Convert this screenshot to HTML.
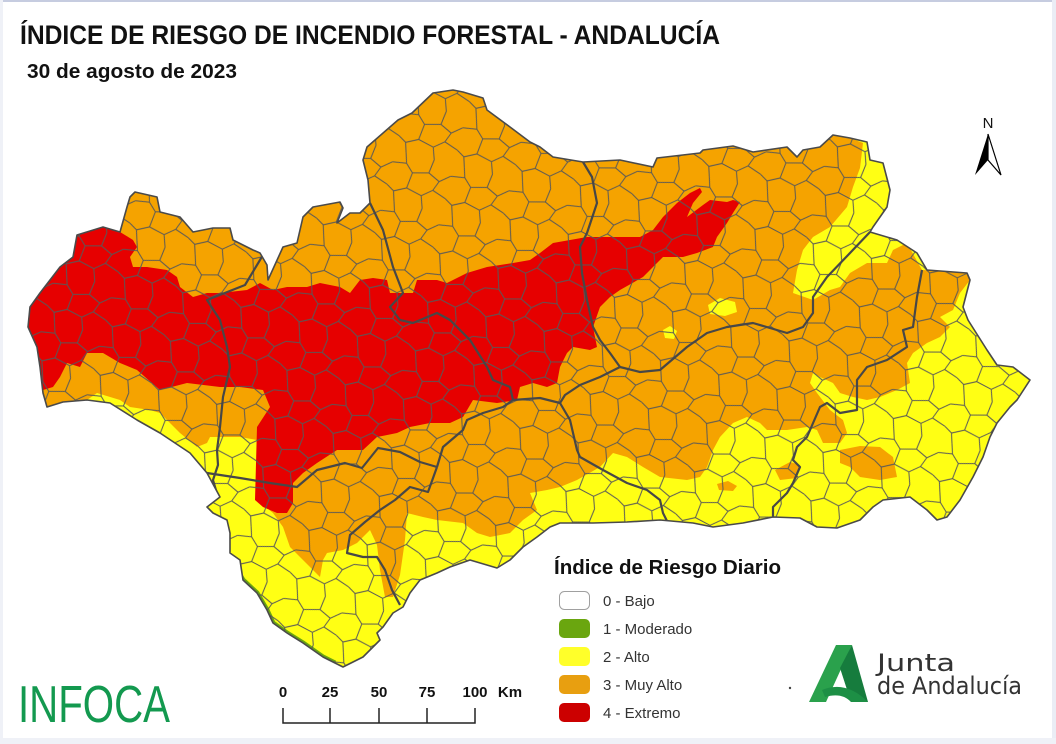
<!DOCTYPE html>
<html><head><meta charset="utf-8"><style>
html,body{margin:0;padding:0;background:#fff;}
svg{display:block;}
text{font-family:"Liberation Sans",Arial,sans-serif;}
</style></head><body>
<svg width="1056" height="744" viewBox="0 0 1056 744" xmlns="http://www.w3.org/2000/svg">
<defs>
<clipPath id="cp"><polygon id="outl" points="28,327 30,307 40,293 50,280 60,267 73,257 77,235 103,227 120,232 127,207 130,197 135,192 157,197 160,212 180,217 193,232 213,228 230,228 233,240 253,250 260,253 267,265 268,280 283,247 297,243 303,217 313,207 340,202 343,208 337,223 350,213 360,213 370,203 368,180 363,160 367,147 398,120 412,113 433,93 453,90 463,92 483,98 487,110 510,127 530,142 540,147 553,157 583,162 620,160 653,167 657,158 700,153 703,150 733,146 753,152 787,147 797,157 803,150 820,147 833,135 850,138 867,142 870,160 883,163 890,190 887,207 873,227 870,232 897,240 917,253 927,270 967,273 970,280 963,307 968,320 987,350 997,365 1013,367 1030,380 1017,400 1010,407 997,423 990,437 983,457 973,477 960,500 947,517 937,520 927,510 910,497 883,500 873,507 860,520 837,528 817,527 800,518 773,517 743,523 713,527 693,523 660,520 627,522 593,523 560,523 550,527 537,537 523,547 510,560 497,568 470,560 450,567 437,573 420,580 410,593 403,607 393,613 383,627 377,633 380,640 373,647 363,657 343,667 323,657 303,643 287,633 273,623 267,610 257,593 243,580 240,560 230,553 230,533 227,520 213,513 207,507 220,497 207,473 190,453 160,433 137,420 110,403 87,400 63,402 47,407 43,393 40,367 37,347"/></clipPath>
<pattern id="muni" width="60" height="50" patternUnits="userSpaceOnUse" patternTransform="rotate(14)">
<path d="M0,12 L14,10 L22,18 L38,14 L50,20 L60,12 M14,10 L11,0 M11,50 L8,40 L0,35 M22,18 L20,34 L8,40 M20,34 L36,38 L46,30 L50,20 M36,38 L40,50 M38,14 L40,0 M46,30 L60,35" fill="none" stroke="#585858" stroke-width="1"/>
</pattern>
</defs>

<!-- frame -->
<rect x="0" y="0" width="1056" height="744" fill="#ffffff"/>
<rect x="0" y="0" width="1056" height="2" fill="#c6cce0"/>
<rect x="1052" y="0" width="4" height="744" fill="#eaedf5"/>
<rect x="0" y="0" width="3" height="744" fill="#eff1f7"/>
<rect x="0" y="738" width="1056" height="6" fill="#eff1f7"/>

<!-- map -->
<use href="#outl" fill="#ffff14"/>
<g clip-path="url(#cp)">
<polygon fill="#f5a300" points="28,327 30,307 40,293 50,280 60,267 73,257 77,235 103,227 120,232 127,207 130,197 135,192 157,197 160,212 180,217 193,232 213,228 230,228 233,240 253,250 260,253 267,265 268,280 283,247 297,243 303,217 313,207 340,202 343,208 337,223 350,213 360,213 370,203 368,180 363,160 367,147 398,120 412,113 433,93 453,90 463,92 483,98 487,110 510,127 530,142 540,147 553,157 583,162 620,160 653,167 657,158 700,153 703,150 733,146 753,152 787,147 797,157 803,150 820,147 833,135 850,138 863,143 860,168 853,187 847,207 830,227 813,237 803,250 797,270 793,293 813,300 830,290 840,287 850,273 867,263 887,263 893,250 907,243 922,270 967,273 970,280 960,293 953,310 940,317 950,327 940,337 927,343 913,353 907,363 910,383 897,390 880,397 867,400 853,397 840,393 833,383 820,377 813,373 810,383 817,393 830,410 843,420 847,433 840,443 823,443 817,430 807,427 787,430 767,430 760,423 747,417 733,423 720,437 713,450 707,467 700,477 687,480 660,477 643,467 627,457 613,453 600,467 577,480 560,487 547,490 530,493 537,510 523,520 510,533 490,537 477,533 463,523 437,520 423,517 407,513 405,540 400,575 393,597 385,597 380,570 377,545 370,530 363,537 357,543 343,550 327,553 323,560 320,577 313,570 303,560 290,547 283,527 273,513 257,500 257,440 240,437 210,437 207,443 197,447 180,433 160,413 150,410 130,407 120,400 97,393 87,400 63,402 47,407 43,393 40,367 37,347"/>
<polygon fill="#f5a300" points="840,450 860,446 880,447 893,457 897,477 880,480 860,477 850,467 840,463"/>
<polygon fill="#f5a300" points="775,470 790,462 800,465 797,478 780,480"/>
<polygon fill="#f5a300" points="717,484 728,481 737,486 733,491 719,490"/>
<polygon fill="#ffff14" points="708,305 720,298 735,302 737,312 725,316 710,314"/>
<polygon fill="#ffff14" points="663,330 670,326 677,331 674,339 665,338"/>
<polygon fill="#e60000" points="28,327 30,307 40,293 50,280 60,267 73,257 77,235 103,227 120,232 133,240 137,247 130,257 133,267 147,267 167,270 177,277 180,287 193,297 207,293 220,293 247,290 260,283 273,290 287,287 307,287 320,283 340,287 350,293 360,280 373,278 387,280 390,293 413,293 417,280 437,280 447,283 467,273 487,267 513,263 530,260 540,253 553,243 587,237 640,237 653,230 663,217 677,203 690,193 700,188 702,192 693,203 687,217 703,205 710,200 727,202 733,200 740,202 733,213 727,223 717,237 713,247 697,253 683,257 663,257 650,270 643,277 620,290 610,297 600,307 593,327 597,347 590,350 573,347 567,353 560,367 557,383 547,387 533,383 520,387 517,400 497,403 473,400 463,417 450,423 430,423 410,427 397,433 377,437 363,450 337,450 317,463 303,473 293,483 293,503 287,513 277,513 263,507 255,500 257,427 270,407 263,390 240,387 220,387 187,383 160,390 137,370 120,363 103,353 87,353 80,367 67,363 60,377 53,387 43,390 40,367 37,347"/>
<polyline fill="none" stroke="#6aa60f" stroke-width="5" points="238,572 243,580 257,593 267,610 273,623 287,633 303,643 323,657 335,663"/>
<rect x="0" y="80" width="1056" height="600" fill="url(#muni)"/>
<g fill="none" stroke="#474747" stroke-width="2.2" stroke-linejoin="round">
<polyline points="263,255 245,285 207,300 220,320 227,347 230,367 223,397 220,427 217,450 218,465 213,480 218,497"/>
<polyline points="370,203 383,230 393,267 403,293 390,307 400,320 413,323 437,313 450,320 470,340 487,367 493,380 510,387 513,400"/>
<polyline points="513,400 503,407 483,413 467,420 463,430 443,447 437,467"/>
<polyline points="207,473 240,478 270,483 297,487 317,470 345,463 362,468 378,448 400,452 420,462 437,467"/>
<polyline points="437,467 428,492 410,487 395,500 380,510 365,522 350,535 347,553 363,557 377,557 385,570 392,590 400,605"/>
<polyline points="513,400 540,398 560,403"/>
<polyline points="583,162 592,177 597,203 587,233 580,247 582,273 587,300 593,327 600,340 610,353 620,367"/>
<polyline points="620,367 600,377 580,385 565,395 560,403"/>
<polyline points="620,367 640,372 660,370 687,347 707,333 727,327 753,323 787,333 803,327 813,313 813,297 827,277 850,253 870,232"/>
<polyline points="560,403 570,420 577,450 580,457 603,470 627,483 647,490 660,500 663,513 668,523"/>
<polyline points="922,270 917,297 913,327 903,330 907,347 887,360 867,367 857,380 857,410 840,413 827,403 820,407 807,437 797,447 793,460 800,467 793,483 787,493 773,507 773,517"/>
</g>
</g>
<use href="#outl" fill="none" stroke="#4a4a4a" stroke-width="1.6" stroke-linejoin="round"/>

<!-- titles -->
<text x="20" y="44" font-size="27" font-weight="bold" fill="#111" textLength="700" lengthAdjust="spacingAndGlyphs">ÍNDICE DE RIESGO DE INCENDIO FORESTAL - ANDALUCÍA</text>
<text x="27" y="78" font-size="20" font-weight="bold" fill="#111" textLength="210" lengthAdjust="spacingAndGlyphs">30 de agosto de 2023</text>

<!-- north arrow -->
<text x="988" y="128" font-size="15" fill="#111" text-anchor="middle">N</text>
<polygon points="988,134 975,175 988,160" fill="#000"/>
<polygon points="988,134 1001,175 988,160" fill="#fff" stroke="#000" stroke-width="1.2"/>

<!-- legend -->
<text x="554" y="574" font-size="20" font-weight="bold" fill="#111" textLength="227" lengthAdjust="spacingAndGlyphs">Índice de Riesgo Diario</text>
<rect x="559.5" y="591.5" width="30" height="18" rx="5" fill="#fff" stroke="#a0a0a0"/>
<rect x="559" y="619" width="31" height="19" rx="5" fill="#6aa60f"/>
<rect x="559" y="647" width="31" height="19" rx="5" fill="#ffff2a"/>
<rect x="559" y="675" width="31" height="19" rx="5" fill="#e89f10"/>
<rect x="559" y="703" width="31" height="19" rx="5" fill="#cc0000"/>
<g font-size="15" fill="#333">
<text x="603" y="606">0 - Bajo</text>
<text x="603" y="634">1 - Moderado</text>
<text x="603" y="662">2 - Alto</text>
<text x="603" y="690">3 - Muy Alto</text>
<text x="603" y="718">4 - Extremo</text>
</g>

<!-- Junta logo -->
<circle cx="790" cy="688" r="1.2" fill="#444"/>
<polygon points="809,702 836,645 852,645 826,702" fill="#2aa14c"/>
<polygon points="852,645 868,702 851,702 840,668" fill="#167c3d"/>
<path d="M822,690 Q846,680 868,702 L851,702 Q842,692 825,697 Z" fill="#1d8f45"/>
<text x="877" y="671" font-size="24" fill="#333" style="font-family:'DejaVu Sans',sans-serif" textLength="78" lengthAdjust="spacingAndGlyphs">Junta</text>
<text x="877" y="694" font-size="24" fill="#333" style="font-family:'DejaVu Sans',sans-serif" textLength="145" lengthAdjust="spacingAndGlyphs">de Andalucía</text>

<!-- INFOCA -->
<text x="18" y="722" font-size="52" fill="#13994f" textLength="152" lengthAdjust="spacingAndGlyphs">INFOCA</text>

<!-- scale bar -->
<g font-size="15" font-weight="bold" fill="#111" text-anchor="middle">
<text x="283" y="697">0</text>
<text x="330" y="697">25</text>
<text x="379" y="697">50</text>
<text x="427" y="697">75</text>
<text x="475" y="697">100</text>
<text x="510" y="697">Km</text>
</g>
<g stroke="#222" stroke-width="1.5" fill="none">
<polyline points="283,708 283,723 475,723 475,708"/>
<line x1="330" y1="708" x2="330" y2="723"/>
<line x1="379" y1="708" x2="379" y2="723"/>
<line x1="427" y1="708" x2="427" y2="723"/>
</g>
</svg>
</body></html>
